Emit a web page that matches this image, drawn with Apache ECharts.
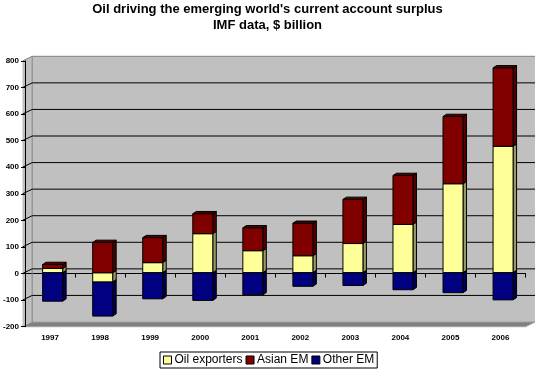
<!DOCTYPE html>
<html><head><meta charset="utf-8">
<script src="https://cdn.jsdelivr.net/npm/echarts@6/dist/echarts.min.js"></script>
<style>html,body{margin:0;padding:0;background:#fff}#c{width:535px;height:370px}</style>
</head><body><div id="c"></div>
<script>
// ---- data ----
const categories = ['1997','1998','1999','2000','2001','2002','2003','2004','2005','2006'];
const oilExporters = [16, -35, 38, 147, 83, 64, 110, 182, 335, 476];
const asianEM      = [15, 114, 94, 75, 86, 122, 166, 184, 253, 295];
const otherEM      = [-107, -128, -98, -104, -83, -51, -48, -64, -75, -102];
const yTicks = [-200, -100, 0, 100, 200, 300, 400, 500, 600, 700, 800];
const seriesNames = ['Oil exporters', 'Asian EM', 'Other EM'];

// ---- styles / layout ----
const FRONT = {left: 22.5, top: 61, width: 503, height: 265.7};
const DX = 9.7, DY = 4.7;             // wall depth offset
const BAR_W = 20, BDX = 3.5, BDY = 2.3, BAR_SHIFT_X = 2.6, BAR_SHIFT_Y = -0.8;
const colors = {
  'Oil exporters': {front: '#FFFF99', side: '#999966'},
  'Asian EM': {front: '#800000', side: '#500000'},
  'Other EM': {front: '#000080', side: '#000050'}
};

// stacking (positives and negatives separately, in series order)
const allVals = [oilExporters, asianEM, otherEM];
const segs = [[], [], []];
for (let i = 0; i < categories.length; i++) {
  let pos = 0, neg = 0;
  const tmp = [];
  allVals.forEach((arr, s) => {
    const v = arr[i];
    if (v >= 0) { tmp.push([s, pos, pos + v]); pos += v; }
    else { tmp.push([s, neg + v, neg]); neg += v; }
  });
  const maxTop = Math.max(...tmp.map(t => t[2]));
  tmp.forEach(t => segs[t[0]].push([i, t[1], t[2], t[2] === maxTop && t[2] > t[1] ? 1 : 0]));
}

function renderBar(name) {
  const c = colors[name];
  return function (params, api) {
    const i = api.value(0), lo = api.value(1), hi = api.value(2), isTop = api.value(3);
    if (hi === lo) return null;
    const pt = api.coord([i, hi]), pb = api.coord([i, lo]);
    const x0 = pt[0] - BAR_W / 2 + BAR_SHIFT_X, x1 = x0 + BAR_W;
    const yt = pt[1] + BAR_SHIFT_Y, yb = pb[1] + BAR_SHIFT_Y;
    const st = {stroke: '#000', lineWidth: 1};
    const children = [
      {type: 'polygon', shape: {points: [[x1, yt], [x1 + BDX, yt - BDY], [x1 + BDX, yb - BDY], [x1, yb]]},
        style: Object.assign({fill: c.side}, st)}
    ];
    if (isTop) children.push({type: 'polygon',
      shape: {points: [[x0, yt], [x0 + BDX, yt - BDY], [x1 + BDX, yt - BDY], [x1, yt]]},
      style: Object.assign({fill: c.side}, st)});
    children.push({type: 'rect', shape: {x: x0, y: yt, width: BAR_W, height: yb - yt},
      style: Object.assign({fill: c.front}, st)});
    return {type: 'group', children};
  };
}

const chart = echarts.init(document.getElementById('c'), null, {renderer: 'canvas'});
const backLeft = FRONT.left + DX, backTop = FRONT.top - DY;

const option = {
  animation: false,
  backgroundColor: '#ffffff',
  title: {
    text: "Oil driving the emerging world's current account surplus\nIMF data, $ billion",
    left: 'center', top: 1, padding: 0,
    textStyle: {fontFamily: 'Liberation Sans', fontWeight: 'bold', fontSize: 13, lineHeight: 16, color: '#000'}
  },
  legend: {
    data: seriesNames.map(n => ({name: n, itemStyle: {color: colors[n].front, borderColor: '#000', borderWidth: 1}})),
    left: 160, top: 352, orient: 'horizontal',
    icon: 'rect', itemWidth: 8, itemHeight: 8, itemGap: 3,
    padding: [2, 3, 2, 3], borderColor: '#000', borderWidth: 1, backgroundColor: '#fff',
    textStyle: {fontFamily: 'Liberation Sans', fontSize: 12, color: '#000', padding: [0, 0, 0, -2]}
  },
  graphic: [
    {type: 'polygon', z: 0, silent: true,
      shape: {points: [[FRONT.left, FRONT.top], [backLeft, backTop], [backLeft, backTop + FRONT.height], [FRONT.left, FRONT.top + FRONT.height]]},
      style: {fill: '#C0C0C0'}},
    {type: 'polygon', z: 0, silent: true,
      shape: {points: [[FRONT.left, FRONT.top + FRONT.height], [backLeft, backTop + FRONT.height],
        [backLeft + FRONT.width, backTop + FRONT.height], [FRONT.left + FRONT.width, FRONT.top + FRONT.height]]},
      style: {fill: '#808080', stroke: '#A0A0A0', lineWidth: 1}},
    {type: 'polyline', z: 1, silent: true,
      shape: {points: [[FRONT.left, FRONT.top], [backLeft, backTop], [backLeft + FRONT.width, backTop]]},
      style: {stroke: '#808080', lineWidth: 1, fill: null}},
    {type: 'line', z: 1, silent: true,
      shape: {x1: backLeft, y1: backTop, x2: backLeft, y2: backTop + FRONT.height},
      style: {stroke: '#808080', lineWidth: 1}}
  ],
  grid: [
    {left: backLeft, top: backTop, width: FRONT.width, height: FRONT.height, show: true,
      backgroundColor: '#C0C0C0', borderWidth: 0, containLabel: false},
    {left: FRONT.left, top: FRONT.top, width: FRONT.width, height: FRONT.height, containLabel: false}
  ],
  xAxis: [
    {gridIndex: 0, type: 'value', min: 0, max: 1, show: false},
    {gridIndex: 1, type: 'category', data: categories, boundaryGap: true,
      axisLine: {lineStyle: {color: '#000', width: 1}},
      axisTick: {show: true, interval: 0, length: 4, lineStyle: {color: '#000'}},
      axisLabel: {interval: 0, margin: 7, color: '#000', fontFamily: 'Liberation Sans', fontWeight: 'bold', fontSize: 8},
      splitLine: {show: false}}
  ],
  yAxis: [
    {gridIndex: 0, type: 'value', min: -200, max: 800, interval: 100, show: false, splitLine: {show: false}},
    {gridIndex: 1, type: 'value', min: -200, max: 800, interval: 100,
      axisLine: {show: true, lineStyle: {color: '#000', width: 1}},
      axisTick: {show: true, length: 4, lineStyle: {color: '#000'}},
      axisLabel: {margin: 6, color: '#000', fontFamily: 'Liberation Sans', fontWeight: 'bold', fontSize: 8},
      splitLine: {show: false}}
  ],
  series: [
    {type: 'custom', name: 'wall', xAxisIndex: 0, yAxisIndex: 0, z: 1, silent: true,
      data: yTicks.filter(v => v > -200 && v < 800).map(v => [0, v]),
      renderItem: function (params, api) {
        const v = api.value(1);
        const p0 = api.coord([0, v]), p1 = api.coord([1, v]);
        return {type: 'polyline', shape: {points: [[p0[0] - DX, p0[1] + DY], p0, p1]},
          style: {stroke: '#000', lineWidth: 1, fill: null}};
      }},
    ...seriesNames.map((n, s) => ({
      type: 'custom', name: n, xAxisIndex: 1, yAxisIndex: 1, z: 5 + s,
      itemStyle: {color: colors[n].front, borderColor: '#000'},
      encode: {x: 0, y: [1, 2]},
      data: segs[s],
      renderItem: renderBar(n)
    }))
  ]
};
chart.setOption(option);
</script>
</body></html>
